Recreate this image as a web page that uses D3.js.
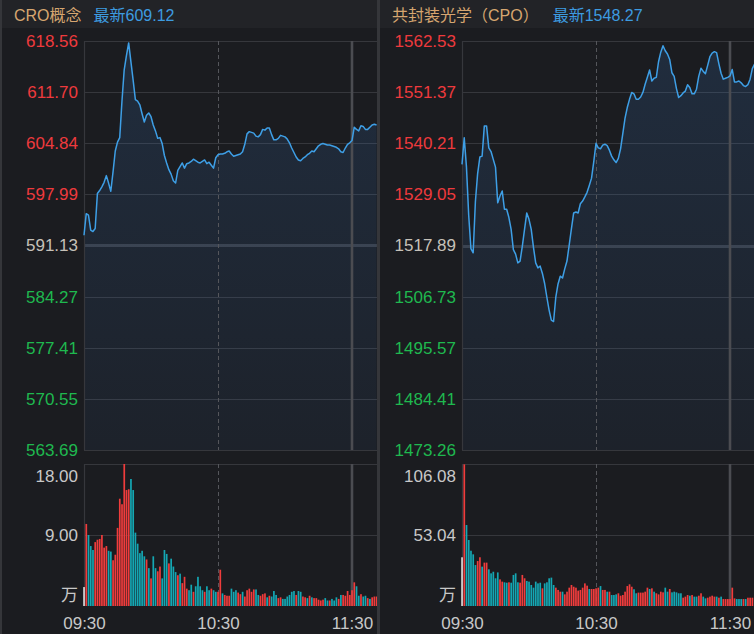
<!DOCTYPE html>
<html><head><meta charset="utf-8">
<script src="https://cdn.jsdelivr.net/npm/d3@7"></script>
<style>html,body{margin:0;padding:0;background:#1b1c20;}svg{display:block}</style>
</head><body>
<svg id="c" width="754" height="634"></svg>
<script>
// ---------- data ----------
const timeLabels = ["09:30", "10:30", "11:30"];
const timeTickIdx = [0, 60, 120];

const croTitle = "CRO概念";
const croLatest = "最新609.12";
const croPrevClose = 591.13;
const croTicks = [618.56, 611.70, 604.84, 597.99, 591.13, 584.27, 577.41, 570.55, 563.69];
const croVolTicks = [18.00, 9.00];
const croPrice = [592.5,595.4,595.2,593.2,593.0,593.4,598.1,598.5,599.0,599.6,
600.5,599.5,598.4,601.0,603.8,605.0,605.6,610.5,614.7,616.6,
618.3,615.8,613.3,610.7,610.5,610.0,608.8,607.7,608.6,608.9,
608.4,607.3,606.5,605.5,605.6,604.8,603.2,602.2,601.3,600.7,
599.8,599.5,601.2,601.7,602.2,601.5,602.1,602.2,602.4,602.7,
602.5,602.3,602.2,602.4,602.6,602.1,602.3,601.9,601.5,602.9,
603.3,603.4,603.4,603.5,603.7,603.8,603.4,603.1,603.2,603.3,
603.4,603.7,604.7,606.1,606.4,606.3,606.2,605.8,605.7,606.0,
606.7,606.6,606.9,606.9,606.0,605.3,605.3,605.5,605.9,605.8,
605.7,605.4,604.9,604.2,603.6,603.0,602.6,602.5,602.8,603.0,
603.3,603.5,603.8,603.7,604.1,604.5,604.7,604.8,604.7,604.6,
604.6,604.5,604.4,604.3,604.1,603.7,603.6,604.2,604.7,604.9,
605.2,607.0,606.7,606.5,607.2,607.1,606.7,606.7,607.0,607.3,
607.4,607.3];
const croVol = [2.4,10.4,9.0,7.6,7.1,8.1,8.4,8.5,9.0,7.4,
7.6,7.0,6.9,5.8,6.5,9.9,13.6,12.9,18.0,14.7,
14.8,16.1,14.7,9.3,7.9,6.7,7.0,6.3,5.9,4.8,
3.5,6.3,4.8,4.4,5.0,3.5,7.1,6.6,5.4,6.0,
5.0,4.3,3.9,4.1,2.9,3.7,2.2,2.0,2.7,1.8,
2.5,3.7,2.5,2.0,1.8,2.5,2.0,2.2,2.0,1.8,
1.8,4.6,1.6,1.4,1.3,1.3,2.2,1.8,2.0,1.7,
1.5,1.8,1.2,2.0,2.2,1.8,2.1,2.1,1.4,1.3,
1.5,1.6,1.1,1.3,1.2,1.9,1.4,1.0,1.1,0.9,
0.9,1.2,1.4,1.8,1.9,1.4,1.9,1.8,1.2,1.1,
1.0,1.3,1.1,1.0,1.0,0.8,0.7,0.8,1.0,0.7,
0.7,0.9,0.7,1.1,0.9,1.4,1.4,1.3,1.9,1.4,
2.0,3.0,2.5,1.3,1.5,1.2,1.3,1.0,0.9,1.1,
1.2,1.2];
const croDir = ("wrtttrrrrr" + "rttrrrrrrr" + "rtttttttrt" + "rttrrtttrt" + "ttrtrrrttr" +
  "ttttrttrtt" + "rrtrrrtttr" + "rtrrrrrttr" + "rrtrtttrrt" + "tttttrttrr" +
  "trtrrrrrtt" + "rtttrtrrrr" + "rrttrttrtr" + "rr").split("");

const cpoTitle = "共封装光学（CPO）";
const cpoLatest = "最新1548.27";
const cpoPrevClose = 1517.89;
const cpoTicks = [1562.53, 1551.37, 1540.21, 1529.05, 1517.89, 1506.73, 1495.57, 1484.41, 1473.26];
const cpoVolTicks = [106.08, 53.04];
const cpoPrice = [1535.6,1541.4,1535.0,1524.5,1517.2,1516.3,1527.5,1533.6,1537.2,1537.4,
1544.0,1544.0,1539.2,1538.4,1536.7,1535.0,1527.2,1528.7,1529.8,1525.8,
1525.8,1524.0,1521.4,1517.0,1516.0,1514.1,1514.5,1517.7,1521.4,1525.0,
1523.6,1521.4,1517.5,1514.1,1513.0,1513.4,1511.8,1509.6,1506.6,1503.8,
1501.6,1501.3,1506.6,1509.5,1511.2,1510.8,1512.8,1514.5,1518.0,1521.6,
1525.0,1525.2,1525.0,1527.0,1527.6,1528.5,1529.5,1531.0,1532.6,1536.2,
1540.2,1539.2,1539.0,1539.8,1540.0,1539.7,1538.7,1537.4,1536.6,1536.0,
1536.9,1539.0,1542.3,1545.7,1548.0,1549.8,1551.3,1551.0,1549.8,1549.8,
1550.3,1551.3,1553.1,1554.6,1556.2,1553.8,1554.4,1554.6,1558.0,1560.1,
1561.5,1560.4,1559.7,1558.5,1555.6,1554.8,1552.2,1550.2,1550.6,1551.2,
1551.6,1553.0,1552.4,1551.0,1551.0,1552.0,1554.8,1556.6,1555.9,1555.4,
1557.2,1559.1,1559.9,1560.2,1560.0,1557.6,1555.5,1554.2,1554.4,1554.6,
1554.9,1556.3,1553.6,1553.6,1553.8,1553.4,1552.8,1552.6,1553.0,1554.2,
1556.5,1557.5];
const cpoVol = [36.4,105.8,60.5,49.3,41.3,38.6,30.6,33.6,36.4,29.4,
32.4,32.4,27.4,24.4,25.6,20.7,25.1,19.9,18.2,17.7,
17.4,17.7,17.4,23.2,24.4,17.7,17.4,23.2,20.7,18.7,
18.2,15.7,13.7,18.2,16.9,17.4,13.2,16.9,17.7,20.7,
21.2,15.7,13.7,12.0,10.7,10.7,8.7,10.7,13.7,15.7,
14.4,13.7,11.5,12.0,13.7,16.9,15.2,12.7,12.7,12.7,
13.2,13.7,14.9,12.0,12.0,10.7,10.7,8.2,8.2,8.7,
9.5,7.7,8.2,10.7,14.9,16.2,14.4,12.5,9.5,10.0,
10.0,10.0,10.7,13.7,12.7,13.2,10.7,9.5,8.7,10.7,
10.2,13.7,10.7,12.7,10.2,10.7,10.2,9.5,9.5,6.2,
7.0,8.2,7.7,8.2,7.0,7.0,7.7,9.5,7.0,5.7,
6.2,7.0,7.7,7.0,7.0,6.2,7.0,5.2,5.2,5.2,
5.2,13.7,5.7,5.2,5.2,5.2,5.2,5.2,6.2,6.2,
6.2];
const cpoDir = ("wrtttttrrt" + "rrtttttrrt" + "trttttrrrt" + "ttttttrttt" + "ttrrrtrrrr" +
  "rrrrrrrtrr" + "rrtrrtrttt" + "rrrrrrrttr" + "rrrrtrtrrr" + "rttrtttttr" +
  "rrtrttrrtt" + "rrrrtrtrrr" + "rrrtttrtrr" + "r").split("");

// ---------- drawing ----------
const W = 754, H = 634;
const svg = d3.select("#c");
const defs = svg.append("defs");
const FONT = "'Liberation Sans','Noto Sans CJK SC',Arial,sans-serif";
const C = {
  bg: "#1b1c20", header: "#222327", grid: "#36373c", mid: "#3a3c42",
  vline: "#4b4c51", dash: "#55565b", up: "#ee3a3d", down: "#1fb84f",
  flat: "#c6c1b9", line: "#3e9fe6", barUp: "#f03c3c", barDn: "#14a7b3",
  barW: "#d8d8d8", axis: "#c8c8c8", title: "#d6a670", latest: "#3d9be0", sep: "#35363a"
};
svg.append("rect").attr("width", W).attr("height", H).attr("fill", C.bg);

const grad = defs.append("linearGradient").attr("id", "areaGrad")
  .attr("gradientUnits", "userSpaceOnUse").attr("x1", 0).attr("x2", 0).attr("y1", 41).attr("y2", 450);
grad.append("stop").attr("offset", 0).attr("stop-color", "#3b7fd0").attr("stop-opacity", 0.17);
grad.append("stop").attr("offset", 1).attr("stop-color", "#3b7fd0").attr("stop-opacity", 0.06);

function panel(cfg) {
  const id = cfg.id;
  defs.append("clipPath").attr("id", "clip" + id).append("rect")
    .attr("x", cfg.x0).attr("y", 0).attr("width", cfg.x1 - cfg.x0).attr("height", H);
  const g = svg.append("g").attr("clip-path", `url(#clip${id})`);

  // header band
  g.append("rect").attr("x", cfg.x0).attr("y", 0).attr("width", cfg.x1 - cfg.x0).attr("height", 28).attr("fill", C.header);
  const tt = g.append("text").attr("x", cfg.x0 + cfg.titleX).attr("y", 21)
    .attr("font-family", FONT).attr("font-size", 16);
  tt.append("tspan").attr("fill", C.title).text(cfg.title);
  tt.append("tspan").attr("fill", C.latest).attr("dx", cfg.gap).text(cfg.latest);

  const x = d3.scaleLinear().domain([0, 120]).range([cfg.plotLeft, cfg.plotLeft + 268]);
  const y = d3.scaleLinear().domain([cfg.ticks[cfg.ticks.length - 1], cfg.ticks[0]]).range([450, 41]);
  const yv = d3.scaleLinear().domain([0, cfg.volTicks[0]]).range([606, 464]);
  const right = cfg.x1;

  // horizontal grid (price)
  cfg.ticks.forEach(t => {
    const yy = Math.round(y(t)) + 0.5;
    const isMid = Math.abs(t - cfg.prev) < 1e-6;
    g.append("line").attr("x1", cfg.plotLeft).attr("x2", right).attr("y1", yy).attr("y2", yy)
      .attr("stroke", isMid ? C.mid : C.grid).attr("stroke-width", isMid ? 3 : 1.2);
  });
  // volume grid
  cfg.volTicks.forEach(t => {
    const yy = Math.round(yv(t)) + 0.5;
    g.append("line").attr("x1", cfg.plotLeft).attr("x2", right).attr("y1", yy).attr("y2", yy)
      .attr("stroke", C.grid).attr("stroke-width", 1.2);
  });

  // area + line
  const area = d3.area().x((d, i) => x(i)).y0(450).y1(d => y(d));
  const line = d3.line().x((d, i) => x(i)).y(d => y(d));
  g.append("path").datum(cfg.price).attr("d", area).attr("fill", "url(#areaGrad)");

  // vertical lines
  const vl = (xx, y1, y2, kind) => {
    const l = g.append("line").attr("x1", xx).attr("x2", xx).attr("y1", y1).attr("y2", y2);
    if (kind === "dash") l.attr("stroke", C.dash).attr("stroke-width", 1).attr("stroke-dasharray", "4,3");
    else if (kind === "thick") l.attr("stroke", C.vline).attr("stroke-width", 2.6);
    else l.attr("stroke", C.grid).attr("stroke-width", 1.2);
  };
  [[41, 450], [464, 606]].forEach(([a, b]) => {
    vl(Math.round(x(0)) + 0.5, a, b, "solid");
    vl(Math.round(x(timeTickIdx[1])) + 0.5, a, b, "dash");
    vl(Math.round(x(timeTickIdx[2])), a, b, "thick");
  });

  g.append("path").datum(cfg.price).attr("d", line).attr("fill", "none")
    .attr("stroke", C.line).attr("stroke-width", 1.5).attr("stroke-linejoin", "round");

  // volume bars
  g.selectAll(".bar" + id).data(cfg.vol).enter().append("rect")
    .attr("x", (d, i) => x(i) - 0.8).attr("width", 1.7)
    .attr("y", d => yv(d)).attr("height", d => 606 - yv(d))
    .attr("fill", (d, i) => cfg.dir[i] === "r" ? C.barUp : (cfg.dir[i] === "t" ? C.barDn : C.barW));

  // price axis labels
  const ax = g.append("g").attr("transform", `translate(${cfg.labelRight},0)`)
    .call(d3.axisLeft(y).tickValues(cfg.ticks).tickFormat(d => d.toFixed(2)).tickSize(0).tickPadding(0));
  ax.select(".domain").remove();
  ax.selectAll("text").attr("font-family", FONT).attr("font-size", 17)
    .attr("fill", d => Math.abs(d - cfg.prev) < 1e-6 ? C.flat : (d > cfg.prev ? C.up : C.down));

  // volume axis labels
  const av = g.append("g").attr("transform", `translate(${cfg.labelRight},0)`)
    .call(d3.axisLeft(yv).tickValues(cfg.volTicks).tickFormat(d => d.toFixed(2)).tickSize(0).tickPadding(0));
  av.select(".domain").remove();
  av.selectAll("text").attr("font-family", FONT).attr("font-size", 17).attr("fill", C.axis)
    .attr("dy", (d, i) => i === 0 ? "1.02em" : "0.32em");
  g.append("text").attr("x", cfg.labelRight).attr("y", 601).attr("text-anchor", "end")
    .attr("font-family", FONT).attr("font-size", 17).attr("fill", C.axis).text("万");

  // time axis
  const at = g.append("g").attr("transform", "translate(0,606)")
    .call(d3.axisBottom(x).tickValues(timeTickIdx).tickFormat((d, i) => timeLabels[i]).tickSize(0).tickPadding(11));
  at.select(".domain").remove();
  at.selectAll("text").attr("font-family", FONT).attr("font-size", 17).attr("fill", C.axis);
}

panel({ id: "L", x0: 0, x1: 377, plotLeft: 84, labelRight: 78, titleX: 14, gap: 12,
  title: croTitle, latest: croLatest, prev: croPrevClose, ticks: croTicks, volTicks: croVolTicks,
  price: croPrice, vol: croVol, dir: croDir });
panel({ id: "R", x0: 380, x1: 754, plotLeft: 462, labelRight: 456, titleX: 12, gap: 14,
  title: cpoTitle, latest: cpoLatest, prev: cpoPrevClose, ticks: cpoTicks, volTicks: cpoVolTicks,
  price: cpoPrice, vol: cpoVol, dir: cpoDir });

// panel separators
svg.append("rect").attr("x", 0).attr("y", 0).attr("width", 2).attr("height", H).attr("fill", C.sep);
svg.append("rect").attr("x", 377).attr("y", 0).attr("width", 3).attr("height", H).attr("fill", C.sep);
</script>
</body></html>
